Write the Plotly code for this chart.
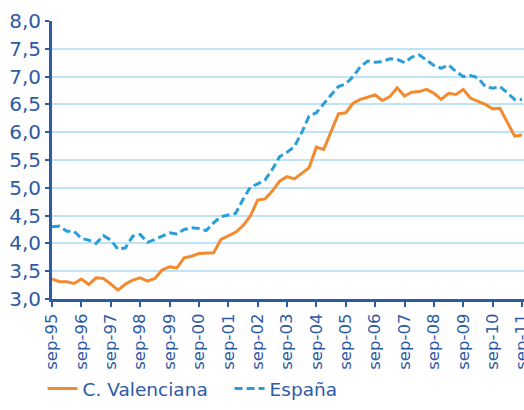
import plotly.graph_objects as go

quarters = []
months = ["mar", "jun", "sep", "dic"]
for yr in range(1995, 2012):
    for m in months:
        quarters.append(f"{m}-{str(yr)[2:]}")
quarters = quarters[quarters.index("sep-95"):quarters.index("sep-11") + 1]

valenciana = [3.36, 3.31, 3.31, 3.28, 3.36, 3.26, 3.38, 3.37, 3.27, 3.16,
              3.27, 3.34, 3.38, 3.32, 3.37, 3.52, 3.58, 3.56, 3.74, 3.77,
              3.82, 3.82, 3.83, 4.07, 4.13, 4.20, 4.32, 4.49, 4.78, 4.80,
              4.94, 5.12, 5.20, 5.16, 5.26, 5.36, 5.73, 5.69, 6.01, 6.33,
              6.35, 6.52, 6.59, 6.63, 6.67, 6.57, 6.64, 6.80, 6.65, 6.72,
              6.73, 6.77, 6.70, 6.59, 6.70, 6.68, 6.77, 6.61, 6.55, 6.50,
              6.42, 6.43, 6.18, 5.93, 5.95]

espana = [4.30, 4.31, 4.22, 4.22, 4.09, 4.06, 4.00, 4.14, 4.06, 3.89,
          3.92, 4.13, 4.16, 4.02, 4.07, 4.13, 4.19, 4.17, 4.25, 4.28,
          4.27, 4.23, 4.37, 4.48, 4.51, 4.54, 4.79, 5.01, 5.07, 5.14,
          5.33, 5.56, 5.64, 5.74, 5.99, 6.29, 6.35, 6.52, 6.67, 6.82,
          6.87, 7.00, 7.18, 7.28, 7.26, 7.27, 7.32, 7.31, 7.25, 7.35,
          7.39, 7.30, 7.20, 7.15, 7.21, 7.09, 7.00, 7.02, 6.98, 6.82,
          6.79, 6.82, 6.70, 6.59, 6.59]

tick_labels = [q for q in quarters if q.startswith("sep")]

DARK = "#2E5AA6"
FONT = "DejaVu Sans"

fig = go.Figure()
fig.add_trace(go.Scatter(x=quarters, y=valenciana, mode="lines", name="C. Valenciana",
                         line=dict(color="#F28A30", width=3)))
fig.add_trace(go.Scatter(x=quarters, y=espana, mode="lines", name="España",
                         line=dict(color="#2B9ED9", width=3, dash="8px,4px")))

fig.update_layout(
    width=524, height=410,
    margin=dict(l=52, r=0, t=21, b=111, autoexpand=False),
    plot_bgcolor="white", paper_bgcolor="white",
    separators=",.",
    font=dict(family=FONT, color=DARK),
    showlegend=True,
    legend=dict(orientation="h", x=-0.02, xanchor="left", y=-0.255, yanchor="top",
                font=dict(size=18.5, color=DARK, family=FONT),
                itemwidth=30, tracegroupgap=0,
                entrywidth=142, entrywidthmode="pixels"),
    xaxis=dict(type="category", categoryorder="array", categoryarray=quarters,
               range=[0, 64.27], tickmode="array", tickvals=tick_labels, ticktext=tick_labels,
               tickangle=-90, tickfont=dict(size=16.5, color=DARK, family=FONT),
               automargin=False,
               showline=True, linecolor=DARK, linewidth=3,
               ticks="outside", ticklen=5, tickwidth=1.5, tickcolor=DARK,
               showgrid=False, zeroline=False),
    yaxis=dict(range=[3, 8], dtick=0.5, tickformat=".1f", automargin=False,
               tickfont=dict(size=20, color=DARK, family=FONT),
               showline=True, linecolor=DARK, linewidth=3,
               ticks="outside", ticklen=4, tickwidth=1.5, tickcolor=DARK,
               showgrid=True, gridcolor="#BFE4F6", gridwidth=1.5, zeroline=False),
)

fig.write_html("out.html", config={"displayModeBar": False},
               post_script="document.body.style.margin='0px';")
